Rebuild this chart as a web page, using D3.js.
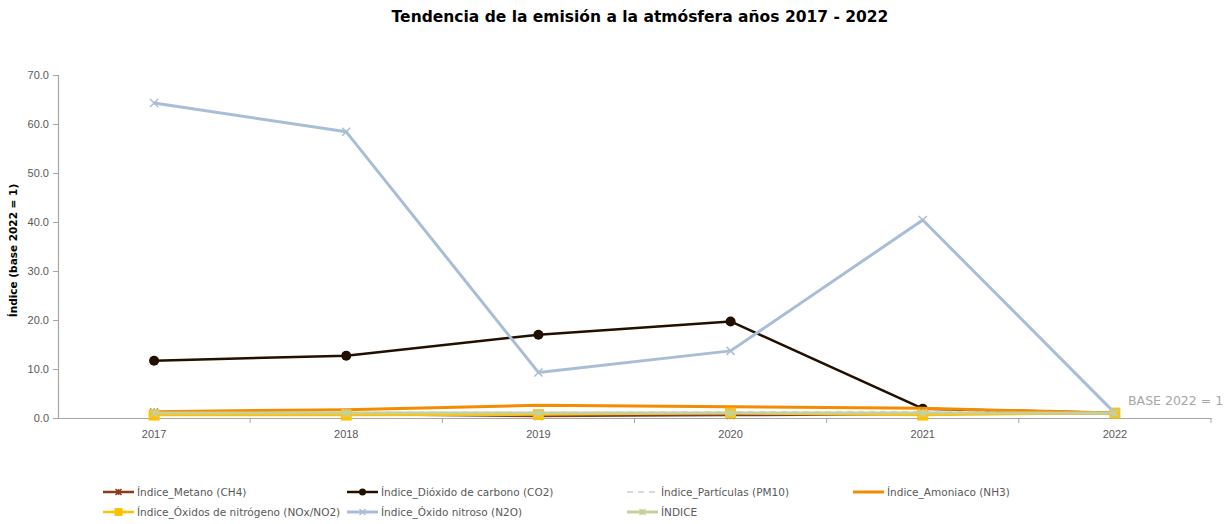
<!DOCTYPE html>
<html>
<head>
<meta charset="utf-8">
<script src="https://cdn.jsdelivr.net/npm/d3@7"></script>
<style>
  html, body { margin: 0; padding: 0; background: #fff; }
  svg { display: block; font-family: "DejaVu Sans", sans-serif; }
</style>
</head>
<body>
<svg id="chart" width="1225" height="524"></svg>
<script>
// Años y series de índices (base 2022 = 1)
const years = ["2017", "2018", "2019", "2020", "2021", "2022"];
const yTicks = [0, 10, 20, 30, 40, 50, 60, 70];

const metano      = [1.1, 0.8, 0.4, 0.6, 0.8, 1.0];
const co2         = [11.7, 12.7, 17.0, 19.7, 1.9, 1.0];
const pm10        = [1.0, 1.1, 1.1, 1.2, 1.3, 1.0];
const amoniaco    = [1.3, 1.7, 2.6, 2.3, 2.0, 1.0];
const nox         = [0.6, 0.6, 0.7, 1.0, 0.6, 1.0];
const n2o         = [64.3, 58.4, 9.3, 13.7, 40.4, 1.0];
const indice      = [1.0, 1.0, 1.0, 1.0, 1.0, 1.0];

const series = [
  { name: "Índice_Metano (CH4)", values: metano, color: "#8B3A1A", width: 2.5, marker: "star" },
  { name: "Índice_Dióxido de carbono (CO2)", values: co2, color: "#211000", width: 2.5, marker: "circle" },
  { name: "Índice_Partículas (PM10)", values: pm10, color: "#D9D9D9", width: 2, dash: "6,5", marker: "none" },
  { name: "Índice_Amoniaco (NH3)", values: amoniaco, color: "#F58B00", width: 3, marker: "none" },
  { name: "Índice_Óxidos de nitrógeno (NOx/NO2)", values: nox, color: "#FFC000", width: 2.5, marker: "square" },
  { name: "Índice_Óxido nitroso (N2O)", values: n2o, color: "#A9BED6", width: 3, marker: "x" },
  { name: "ÍNDICE", values: indice, color: "#C5D09C", width: 3, marker: "star" }
];

const svg = d3.select("#chart");
const margin = { left: 58, right: 14, top: 75, bottom: 106 };
const W = 1225, H = 524;

const x = d3.scaleBand().domain(years).range([margin.left, W - margin.right]);
const y = d3.scaleLinear().domain([0, 70]).range([H - margin.bottom, margin.top]);
const cx = d => x(d) + x.bandwidth() / 2;

// Título
svg.append("text")
  .attr("x", 640).attr("y", 22)
  .attr("text-anchor", "middle")
  .attr("font-size", 15.5).attr("font-weight", "bold").attr("fill", "#000")
  .text("Tendencia de la emisión a la atmósfera años 2017 - 2022");

// Eje Y
const yAxis = svg.append("g")
  .attr("transform", `translate(${margin.left},0)`)
  .call(d3.axisLeft(y).tickValues(yTicks).tickSize(5).tickPadding(4).tickFormat(d3.format(".1f")));
yAxis.select(".domain").attr("stroke", "#A6A6A6").attr("stroke-width", 1.2);
yAxis.selectAll(".tick line").attr("stroke", "#A6A6A6");
yAxis.selectAll(".tick text").attr("fill", "#595959").attr("font-size", 11);

// Eje X con marcas entre categorías
const xAxis = svg.append("g")
  .attr("transform", `translate(0,${y(0)})`)
  .call(d3.axisBottom(x).tickSize(0).tickPadding(12));
xAxis.select(".domain").attr("stroke", "#A6A6A6").attr("stroke-width", 1.2);
xAxis.selectAll(".tick text").attr("fill", "#595959").attr("font-size", 11);
svg.append("g").selectAll("line")
  .data(years.slice(1).concat(["end"]))
  .join("line")
  .attr("x1", (d, i) => i < years.length - 1 ? x(d) : x(years[years.length - 1]) + x.bandwidth())
  .attr("x2", (d, i) => i < years.length - 1 ? x(d) : x(years[years.length - 1]) + x.bandwidth())
  .attr("y1", y(0)).attr("y2", y(0) + 5)
  .attr("stroke", "#A6A6A6");

// Título del eje Y
svg.append("text")
  .attr("transform", `translate(17,${(y(0) + y(70)) / 2 + 4}) rotate(-90)`)
  .attr("text-anchor", "middle")
  .attr("font-size", 10.5).attr("font-weight", "bold").attr("fill", "#000")
  .text("Índice (base 2022 = 1)");

// Marcadores
function drawMarker(g, type, color, px, py, size) {
  if (type === "circle") {
    g.append("circle").attr("cx", px).attr("cy", py).attr("r", size).attr("fill", color);
  } else if (type === "square") {
    g.append("rect").attr("x", px - size).attr("y", py - size)
      .attr("width", size * 2).attr("height", size * 2).attr("fill", color);
  } else if (type === "x") {
    const s = size;
    g.append("path").attr("d", `M${px - s},${py - s}L${px + s},${py + s}M${px - s},${py + s}L${px + s},${py - s}`)
      .attr("stroke", color).attr("stroke-width", 1.5).attr("fill", "none");
  } else if (type === "star") {
    const s = size;
    g.append("path").attr("d", `M${px - s},${py - s}L${px + s},${py + s}M${px - s},${py + s}L${px + s},${py - s}M${px},${py - s}L${px},${py + s}`)
      .attr("stroke", color).attr("stroke-width", 1.5).attr("fill", "none");
  }
}

// Series en el orden de la leyenda
const line = d3.line().x((d, i) => cx(years[i])).y(d => y(d));
const plot = svg.append("g");
series.forEach(s => {
  const g = plot.append("g");
  g.append("path").datum(s.values)
    .attr("d", line)
    .attr("fill", "none")
    .attr("stroke", s.color)
    .attr("stroke-width", s.width)
    .attr("stroke-dasharray", s.dash || null)
    .attr("stroke-linejoin", "round");
  s.values.forEach((v, i) => {
    const size = s.marker === "circle" ? 5 : s.marker === "square" ? 5.5 : 4;
    drawMarker(g, s.marker, s.color, cx(years[i]), y(v), size);
  });
});

// Nota de base
svg.append("text")
  .attr("x", 1128).attr("y", 405)
  .attr("font-size", 12.5).attr("fill", "#A6A6A6")
  .text("BASE 2022 = 1");

// Leyenda
const legendPos = [
  [103, 492], [347, 492], [627, 492], [853, 492],
  [103, 512], [347, 512], [627, 512]
];
series.forEach((s, i) => {
  const [lx, ly] = legendPos[i];
  const g = svg.append("g");
  g.append("line")
    .attr("x1", lx).attr("x2", lx + 31).attr("y1", ly).attr("y2", ly)
    .attr("stroke", s.color).attr("stroke-width", s.width)
    .attr("stroke-dasharray", s.dash || null);
  drawMarker(g, s.marker, s.color, lx + 15.5, ly, s.marker === "circle" ? 3.5 : s.marker === "square" ? 4 : 3);
  g.append("text")
    .attr("x", lx + 34).attr("y", ly + 4)
    .attr("font-size", 10.5).attr("fill", "#595959")
    .text(s.name);
});
</script>
</body>
</html>
